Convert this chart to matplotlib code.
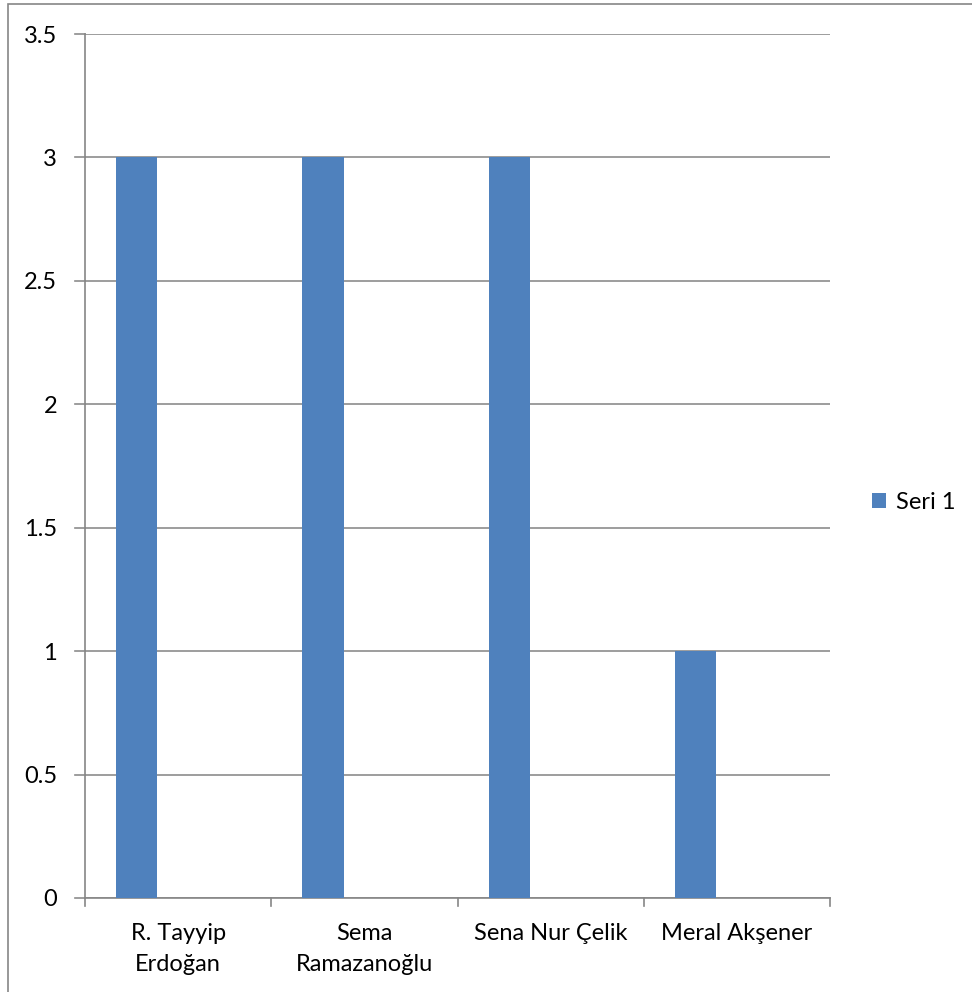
import matplotlib
matplotlib.use("Agg")
import matplotlib.pyplot as plt
from matplotlib.patches import Rectangle
import numpy as np

categories = ["R. Tayyip\nErdoğan", "Sema\nRamazanoğlu", "Sena Nur Çelik", "Meral Akşener"]
seri1 = [3, 3, 3, 1]
series_name = "Seri 1"
yticks = [0, 0.5, 1, 1.5, 2, 2.5, 3, 3.5]

plt.rcParams['font.family'] = ['Lato', 'DejaVu Sans']
FS = 17

W, H = 972, 992
fig = plt.figure(figsize=(W / 100, H / 100), dpi=100)
ax = fig.add_axes([85 / W, 1 - 898 / H, (830 - 85) / W, (898 - 34) / H])

# outer chart border
fig.patches.append(Rectangle((8 / W, -0.1), 1.2, 1 - 4 / H + 0.1, transform=fig.transFigure,
                             fill=False, edgecolor='#868686', linewidth=1.2))

x = np.arange(len(categories))
w = 1 / 4.5
bars = ax.bar(x - 0.5 + 1.25 * w, seri1, width=w, color='#4F81BD', label=series_name, zorder=3)

ax.set_xlim(-0.5, len(categories) - 0.5)
ax.set_ylim(0, 3.5)
ax.set_yticks(yticks)
ax.set_yticklabels([f"{t:g}" for t in yticks])
ax.yaxis.grid(True, color='#8c8c8c', linewidth=1.2, zorder=0)
for t in yticks:
    ax.plot([-0.5 - 10 / 186.25, -0.5], [t, t], color='#8c8c8c', lw=1.2, clip_on=False)
ax.tick_params(axis='y', length=0, pad=20, labelsize=FS, labelcolor='black')

ax.set_xticks(x)
ax.set_xticklabels(categories, fontsize=FS, linespacing=1.6)
ax.tick_params(axis='x', length=0, pad=18)
for b in np.arange(-0.5, len(categories), 1.0):
    ax.plot([b, b], [0, -8 / 864 * 3.5], color='#868686', lw=1.2, clip_on=False)

for s in ['top', 'right']:
    ax.spines[s].set_visible(False)
for s in ['left', 'bottom']:
    ax.spines[s].set_color('#868686')
    ax.spines[s].set_linewidth(1.2)

leg = fig.legend(handles=[bars], labels=[series_name], loc='center left',
                 bbox_to_anchor=(851 / W, 1 - 502 / H), frameon=False, fontsize=FS,
                 handlelength=0.6, handleheight=0.6, handletextpad=0.4)

fig.savefig("out.png", dpi=100)
